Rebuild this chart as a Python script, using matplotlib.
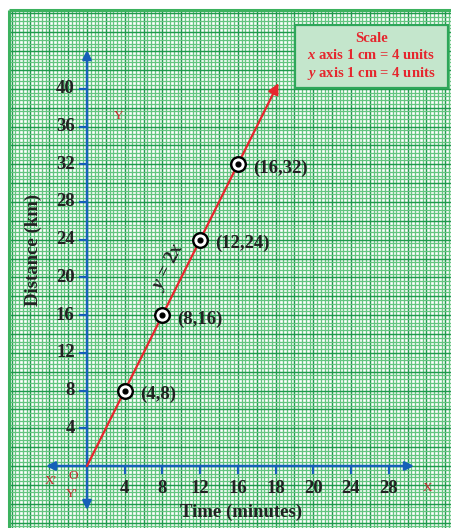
import numpy as np
import matplotlib.pyplot as plt
from matplotlib.patches import Rectangle

plt.rcParams["mathtext.fontset"] = "custom"
plt.rcParams["mathtext.it"] = "Liberation Serif:italic:bold"

# data
time_pts = [4, 8, 12, 16]
dist_pts = [8, 16, 24, 32]
pt_labels = ["(4,8)", "(8,16)", "(12,24)", "(16,32)"]
x_tick_labels = ["4", "8", "12", "16", "18", "20", "24", "28"]
y_tick_labels = ["4", "8", "12", "16", "20", "24", "28", "32", "36", "40"]
line_end_x = 20.3

# pixel geometry of the reference
W, H = 452, 528
OX, OY = 87, 466          # origin in pixels
PPU = 9.43                # pixels per unit


def px(x, y):
    return (x - OX) / PPU, (OY - y) / PPU


SERIF = ["Liberation Serif", "DejaVu Serif"]
RED = "#e5262d"
BLUE = "#1660b8"
INK = "#222222"
FS = 13.5

fig = plt.figure(figsize=(W / 100, H / 100), dpi=100)
ax = fig.add_axes([0, 0, 1, 1])
x0, y1 = px(0, 0)
x1, y0 = px(W, H)
ax.set_xlim(x0, x1)
ax.set_ylim(y0, y1)
ax.axis("off")

# ── graph paper ───────────────────────────────
pl, pt = px(9, 10)
ax.add_patch(Rectangle((pl, y0), x1 - pl, pt - y0, facecolor="white",
                       edgecolor="none", zorder=0))
step = 0.4
for k in range(int(np.floor(pl / step)), int(np.ceil(x1 / step)) + 1):
    v = k * step
    if v < pl:
        continue
    major = k % 5 == 0
    ax.vlines(v, y0, pt, color="#1f9a4c" if major else "#64c580",
              lw=1.05 if major else 0.95, zorder=1)
for k in range(int(np.floor(y0 / step)), int(np.ceil(pt / step)) + 1):
    v = k * step
    if v > pt:
        continue
    major = k % 5 == 0
    ax.hlines(v, pl, x1, color="#1f9a4c" if major else "#64c580",
              lw=1.05 if major else 0.95, zorder=1)
ax.vlines(pl, y0, pt, color="#3cb25e", lw=2.2, zorder=2)
ax.hlines(pt, pl, x1, color="#3cb25e", lw=2.2, zorder=2)

# ── scale box ─────────────────────────────────
bx0, by1 = px(295, 25)
bx1, by0 = px(448, 88)
ax.add_patch(Rectangle((bx0, by0), bx1 - bx0, by1 - by0, facecolor="#c4e6cc",
                       edgecolor="#2ea659", lw=1.6, zorder=5))
cx = (bx0 + bx1) / 2
ax.text(cx, px(0, 38)[1], "Scale", color=RED, family=SERIF, weight="bold",
        fontsize=10.5, ha="center", va="center", zorder=6)
ax.text(cx, px(0, 55)[1], r"$\mathit{x}$ axis 1 cm = 4 units", color=RED,
        family=SERIF, weight="bold", fontsize=10.5, ha="center", va="center",
        zorder=6)
ax.text(cx, px(0, 73)[1], r"$\mathit{y}$ axis 1 cm = 4 units", color=RED,
        family=SERIF, weight="bold", fontsize=10.5, ha="center", va="center",
        zorder=6)

# ── axes ──────────────────────────────────────
xa0 = px(46, 0)[0]
xa1 = px(414, 0)[0]
ya0 = px(0, 510)[1]
ya1 = px(0, 50)[1]
arrow = dict(arrowstyle="<|-|>", color=BLUE, lw=1.8, mutation_scale=13,
             shrinkA=0, shrinkB=0)
ax.annotate("", xy=(xa1, 0), xytext=(xa0, 0), arrowprops=arrow, zorder=7)
ax.annotate("", xy=(0, ya1), xytext=(0, ya0), arrowprops=arrow, zorder=7)

tick_len = 0.75
for i, lab in enumerate(x_tick_labels):
    v = 4 * (i + 1)
    ax.plot([v, v], [0, -tick_len], color=BLUE, lw=1.6, zorder=7)
    ax.text(v, -2.4, lab, family=SERIF, weight="bold", fontsize=FS,
            color=INK, ha="center", va="center", zorder=7)
for i, lab in enumerate(y_tick_labels):
    v = 4 * (i + 1)
    ax.plot([0, -tick_len], [v, v], color=BLUE, lw=1.6, zorder=7)
    ax.text(-1.3, v, lab, family=SERIF, weight="bold", fontsize=FS,
            color=INK, ha="right", va="center", zorder=7)

ax.text(*px(241, 512), "Time (minutes)", family=SERIF, weight="bold",
        fontsize=FS, color=INK, ha="center", va="center", zorder=7)
ax.text(*px(33, 250), "Distance (km)", family=SERIF, weight="bold",
        fontsize=FS, color=INK, ha="center", va="center", rotation=90,
        zorder=7)

# red axis letters
for txt, (x, y) in [("Y", (119, 116)), ("X'", (51, 481)), ("O", (73, 476)),
                    ("Y'", (72, 494)), ("X", (428, 488))]:
    ax.text(*px(x, y), txt, family=SERIF, color="#c8282e", fontsize=9.5,
            ha="center", va="center", zorder=7)

# ── line y = 2x ───────────────────────────────
ax.annotate("", xy=(line_end_x, 2 * line_end_x), xytext=(0, 0),
            arrowprops=dict(arrowstyle="-|>", color=RED, lw=1.6,
                            mutation_scale=16, shrinkA=0, shrinkB=0),
            zorder=8)
ax.text(*px(168, 267), r"$\mathit{y}$ = 2$\mathit{x}$", family=SERIF,
        weight="bold", fontsize=13.5, color=INK, rotation=63.4, ha="center",
        va="center", zorder=8)

ax.scatter(time_pts, dist_pts, s=110, facecolor="white", edgecolor="black",
           lw=1.7, zorder=9)
ax.scatter(time_pts, dist_pts, s=12, color="black", zorder=10)
for x, y, lab in zip(time_pts, dist_pts, pt_labels):
    ax.text(x + 1.6, y - 0.4, lab, family=SERIF, weight="bold", fontsize=FS,
            color=INK, ha="left", va="center", zorder=9)

fig.savefig("out.png", dpi=100, facecolor="white")
